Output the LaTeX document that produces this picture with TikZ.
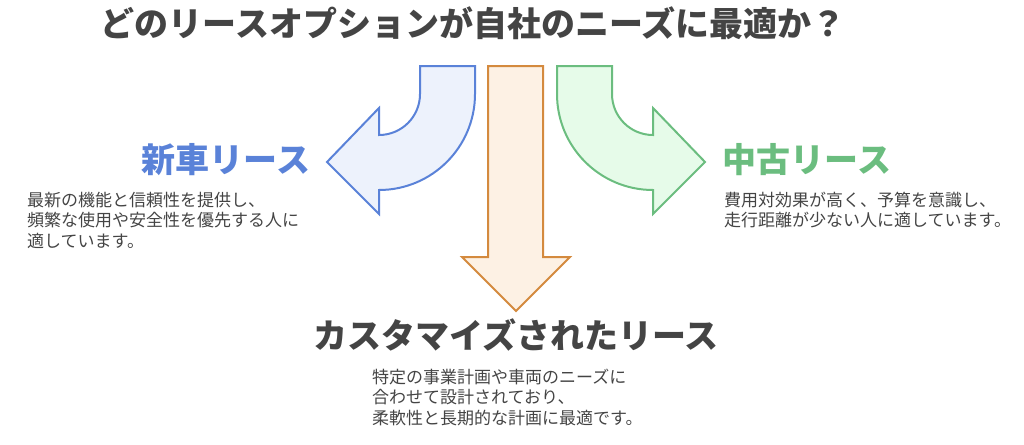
\documentclass[tikz,border=0pt]{standalone}
\usepackage{fontspec}
\setmainfont{Noto Sans CJK JP}
\definecolor{txt}{HTML}{444444}
\definecolor{blueS}{HTML}{5A82D8}
\definecolor{blueF}{HTML}{EDF2FC}
\definecolor{orS}{HTML}{D48A3E}
\definecolor{orF}{HTML}{FDF1E4}
\definecolor{grS}{HTML}{6BBD7F}
\definecolor{grF}{HTML}{E6FBE9}
\tikzset{
  arrowshape/.style={line width=2pt, line join=miter},
  heading/.style={inner sep=0pt, font=\fontsize{34}{38}\selectfont\bfseries},
  desc/.style={inner sep=0pt, align=left, text=txt, font=\fontsize{17}{20.5}\selectfont},
}
\begin{document}
\begin{tikzpicture}[x=1pt,y=1pt]
\useasboundingbox (0,0) rectangle (1024,-444);
% blue arrow (left)
\draw[arrowshape, draw=blueS, fill=blueF]
  (420,-66) -- (475,-66) -- (475,-94) arc[start angle=0,end angle=-90,radius=96]
  -- (379,-214) -- (327,-162) -- (379,-108) -- (379,-135)
  arc[start angle=-90,end angle=0,radius=41] -- cycle;
% orange arrow (down)
\draw[arrowshape, draw=orS, fill=orF]
  (488,-66) -- (543,-66) -- (543,-257) -- (570,-257) -- (516,-311)
  -- (462,-257) -- (488,-257) -- cycle;
% green arrow (right)
\draw[arrowshape, draw=grS, fill=grF]
  (612,-66) -- (557,-66) -- (557,-94) arc[start angle=180,end angle=270,radius=96]
  -- (653,-214) -- (705,-162) -- (653,-108) -- (653,-135)
  arc[start angle=270,end angle=180,radius=41] -- cycle;
% texts
\node[heading, text=txt] (title) at (473,-23) {どのリースオプションが自社のニーズに最適か？};
\node[heading, text=blueS] (newh) at (226,-160) {新車リース};
\node[desc, anchor=west] (newd) at (27,-220) {最新の機能と信頼性を提供し、\\頻繁な使用や安全性を優先する人に\\適しています。};
\node[heading, text=grS] (usedh) at (807,-160) {中古リース};
\node[desc, anchor=west] (usedd) at (724,-210) {費用対効果が高く、予算を意識し、\\走行距離が少ない人に適しています。};
\node[heading, text=txt] (custh) at (516,-335) {カスタマイズされたリース};
\node[desc, anchor=west] (custd) at (372,-397) {特定の事業計画や車両のニーズに\\合わせて設計されており、\\柔軟性と長期的な計画に最適です。};
\end{tikzpicture}
\end{document}
